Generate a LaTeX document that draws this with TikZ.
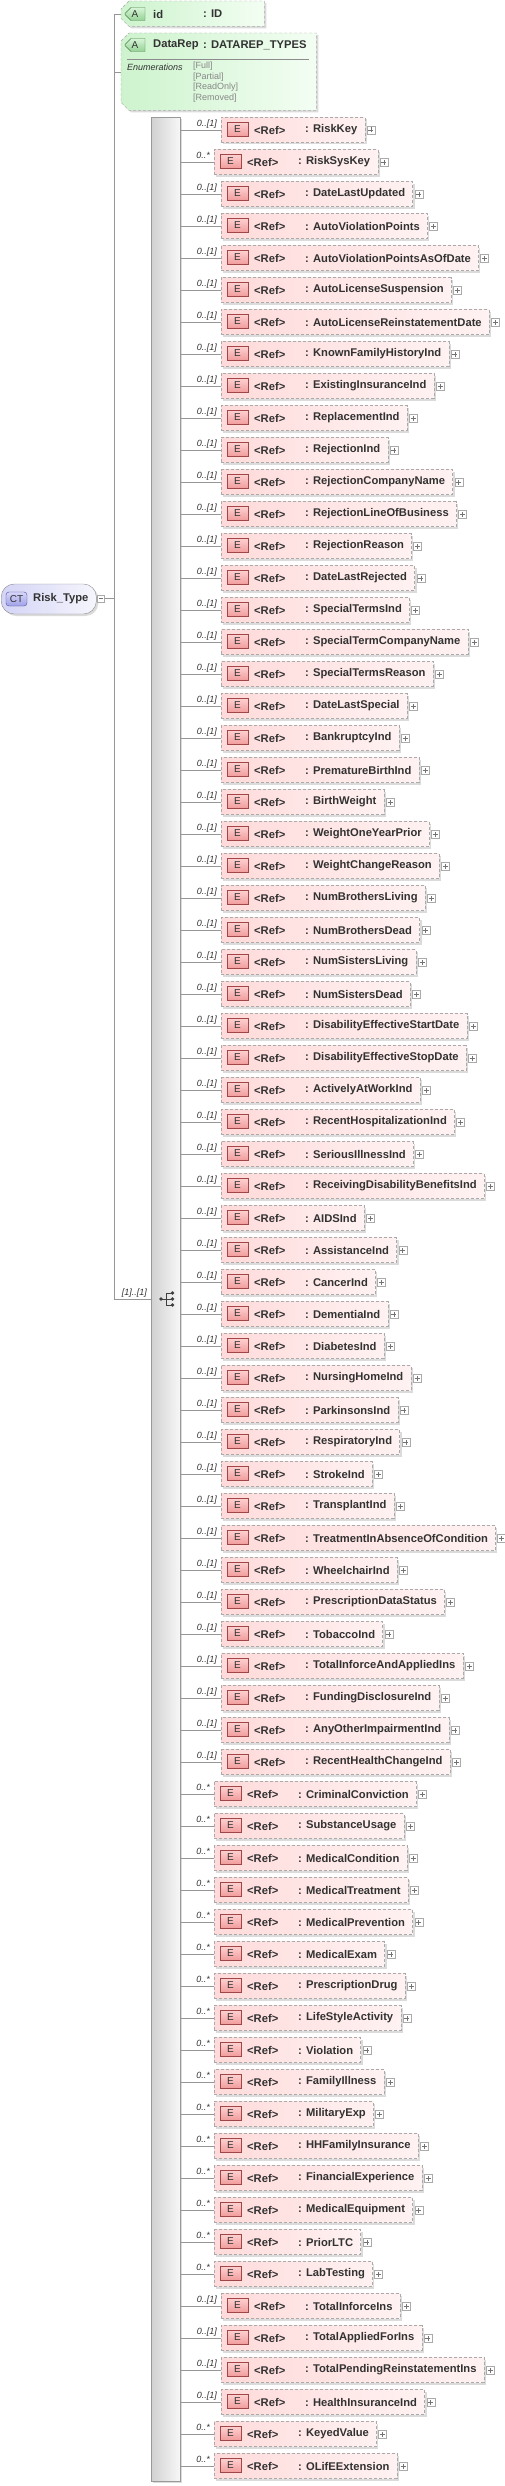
\documentclass[tikz,border=0pt]{standalone}
\usepackage{fontspec}
\setmainfont{Liberation Sans}
\usetikzlibrary{shadows,shapes.misc}
\definecolor{elL}{RGB}{255,218,218}
\definecolor{elR}{RGB}{255,242,242}
\definecolor{bdr}{RGB}{170,170,170}
\definecolor{lnc}{RGB}{150,150,150}
\definecolor{txt}{RGB}{50,50,50}
\definecolor{ebT}{RGB}{255,208,208}
\definecolor{ebB}{RGB}{240,155,155}
\definecolor{ebD}{RGB}{160,70,70}
\definecolor{atL}{RGB}{205,243,205}
\definecolor{atR}{RGB}{243,254,243}
\definecolor{abT}{RGB}{215,245,215}
\definecolor{abB}{RGB}{150,210,150}
\definecolor{abD}{RGB}{70,125,70}
\definecolor{ctL}{RGB}{212,212,246}
\definecolor{ctR}{RGB}{246,246,253}
\definecolor{cbT}{RGB}{215,215,250}
\definecolor{cbB}{RGB}{160,160,232}
\definecolor{cbD}{RGB}{80,80,150}
\definecolor{enc}{RGB}{135,135,135}
\begin{document}
\begin{tikzpicture}[x=1pt,y=-1pt,
  shd/.style={drop shadow={shadow xshift=2pt,shadow yshift=-2pt,fill=black,opacity=0.14}},
  conn/.style={draw=lnc,line width=0.8pt},
  elbox/.style={shd,draw=bdr,dash pattern=on 3pt off 2pt,left color=elL,right color=elR,
    minimum height=25pt,inner sep=0pt,font=\fontsize{11.2}{13}\selectfont\bfseries,text=txt},
  ebadge/.style={draw=ebD,top color=ebT,bottom color=ebB,minimum width=21pt,minimum height=14pt,
    inner sep=0pt,font=\fontsize{10}{11}\selectfont,text=txt},
  reftxt/.style={inner sep=0pt,font=\fontsize{11.2}{13}\selectfont\bfseries,text=txt},
  plusbox/.style={draw=bdr,fill=white,minimum width=8pt,minimum height=8pt,inner sep=0pt},
  plusline/.style={draw=black!55,line width=0.5pt},
  mult/.style={inner sep=0pt,font=\fontsize{9}{10}\selectfont\itshape,text=txt},
  attrshape/.style={shd,draw=bdr,dash pattern=on 3pt off 2pt,left color=atL,right color=atR},
  abadge/.style={chamfered rectangle,chamfered rectangle corners={north west,south west},
    chamfered rectangle xsep=3pt,chamfered rectangle ysep=3pt,draw=abD,top color=abT,bottom color=abB,
    minimum width=20pt,minimum height=13pt,inner sep=0pt,font=\fontsize{10}{11}\selectfont,text=txt},
  attxt/.style={inner sep=0pt,anchor=west,font=\fontsize{11.2}{13}\selectfont\bfseries,text=txt},
  enumtxt/.style={inner sep=0pt,anchor=west,font=\fontsize{9}{10}\selectfont,text=enc},
  seqbar/.style={shd,draw=black!40,left color=black!18,right color=black!3,inner sep=0pt},
  ctbox/.style={shd,draw=black!45,rounded corners=13pt,left color=ctL,right color=ctR,
    minimum height=30pt,inner sep=0pt,font=\fontsize{11.2}{13}\selectfont\bfseries,text=txt},
  cbadge/.style={draw=cbD,rounded corners=3pt,top color=cbT,bottom color=cbB,minimum width=21pt,
    minimum height=14pt,inner sep=0pt,font=\fontsize{10}{11}\selectfont,text=txt},
  icon/.style={draw=black!75,fill=black!75,line width=0.8pt}
]
\useasboundingbox (0,0) rectangle (505,2486);

% complex type node
\node[ctbox,anchor=west] (ct) at (1,599) {\hspace*{32pt}Risk\_Type\hspace*{8pt}};
\node[cbadge] (ctb) at (16.5,599) {CT};
\node[plusbox,minimum width=7pt,minimum height=7pt] (ctm) at (101,598.5) {};
\draw[plusline] ([xshift=-2.2pt]ctm.center) -- ([xshift=2.2pt]ctm.center);

% trunk
\coordinate (tTop) at (114,14);
\coordinate (tDR) at (114,72);
\coordinate (tBot) at (114,1299);
\draw[conn] (ctm.east) -- (ctm.east -| tTop);

% attribute id
\node[minimum width=143pt,minimum height=25pt,inner sep=0pt,anchor=north west] (id) at (121,1) {};
\path[attrshape] ([xshift=8pt]id.north west) -- (id.north east) -- (id.south east)
  -- ([xshift=8pt]id.south west) -- ([yshift=8pt]id.south west) -- ([yshift=-8pt]id.north west) -- cycle;
\node[abadge] (ida) at (135,14) {A};
\node[attxt] (idn) at (153,14) {id};
\node[attxt] (idt) at (203,14) {: ID};
\draw[conn] (tTop) -- (tTop -| id.west);

% attribute DataRep
\node[minimum width=195pt,minimum height=77pt,inner sep=0pt,anchor=north west] (dr) at (121,33) {};
\path[attrshape] ([xshift=8pt]dr.north west) -- (dr.north east) -- (dr.south east)
  -- ([xshift=8pt]dr.south west) -- ([yshift=8pt]dr.south west) -- ([yshift=-8pt]dr.north west) -- cycle;
\node[abadge] (dra) at (135,45) {A};
\node[attxt] (drn) at (153,45) {DataRep};
\node[attxt] (drt) at (203,45) {: DATAREP\_TYPES};
\draw[draw=black!45,line width=0.6pt] (127,59) -- (309,59);
\node[enumtxt,font=\fontsize{9}{10}\selectfont\itshape,text=txt] (dre) at (127,67) {Enumerations};
\node[enumtxt] (dv1) at (193,66) {[Full]};
\node[enumtxt] (dv2) at (193,77) {[Partial]};
\node[enumtxt] (dv3) at (193,87.5) {[ReadOnly]};
\node[enumtxt] (dv4) at (193,98) {[Removed]};
\draw[conn] (tDR) -- (tDR -| dr.west);

% sequence bar
\node[seqbar,anchor=north west,minimum width=29pt,minimum height=2364pt] (seq) at (151,117) {};
\draw[conn] (tTop) -- (tBot) -- (seq.west |- tBot);
\node[mult,anchor=base east] (mseq) at (147,1295) {[1]..[1]};
\draw[icon] (161,1299) -- (166,1299) (166,1293) -- (166,1305)
  (166,1293) -- (172.5,1293) (166,1299) -- (172.5,1299) (166,1305) -- (172.5,1305);
\fill[black!75] (161,1299) circle (1.9pt) (172.5,1293) circle (1.9pt)
  (172.5,1299) circle (1.9pt) (172.5,1305) circle (1.9pt);

% elements
\foreach \nm/\mu [count=\i] in {RiskKey/0, RiskSysKey/1, DateLastUpdated/0, AutoViolationPoints/0,
  AutoViolationPointsAsOfDate/0, AutoLicenseSuspension/0, AutoLicenseReinstatementDate/0,
  KnownFamilyHistoryInd/0, ExistingInsuranceInd/0, ReplacementInd/0, RejectionInd/0,
  RejectionCompanyName/0, RejectionLineOfBusiness/0, RejectionReason/0, DateLastRejected/0,
  SpecialTermsInd/0, SpecialTermCompanyName/0, SpecialTermsReason/0, DateLastSpecial/0,
  BankruptcyInd/0, PrematureBirthInd/0, BirthWeight/0, WeightOneYearPrior/0, WeightChangeReason/0,
  NumBrothersLiving/0, NumBrothersDead/0, NumSistersLiving/0, NumSistersDead/0,
  DisabilityEffectiveStartDate/0, DisabilityEffectiveStopDate/0, ActivelyAtWorkInd/0,
  RecentHospitalizationInd/0, SeriousIllnessInd/0, ReceivingDisabilityBenefitsInd/0, AIDSInd/0,
  AssistanceInd/0, CancerInd/0, DementiaInd/0, DiabetesInd/0, NursingHomeInd/0, ParkinsonsInd/0,
  RespiratoryInd/0, StrokeInd/0, TransplantInd/0, TreatmentInAbsenceOfCondition/0, WheelchairInd/0,
  PrescriptionDataStatus/0, TobaccoInd/0, TotalInforceAndAppliedIns/0, FundingDisclosureInd/0,
  AnyOtherImpairmentInd/0, RecentHealthChangeInd/0, CriminalConviction/1, SubstanceUsage/1,
  MedicalCondition/1, MedicalTreatment/1, MedicalPrevention/1, MedicalExam/1, PrescriptionDrug/1,
  LifeStyleActivity/1, Violation/1, FamilyIllness/1, MilitaryExp/1, HHFamilyInsurance/1,
  FinancialExperience/1, MedicalEquipment/1, PriorLTC/1, LabTesting/1, TotalInforceIns/0,
  TotalAppliedForIns/0, TotalPendingReinstatementIns/0, HealthInsuranceInd/0, KeyedValue/1,
  OLifEExtension/1}{
  \pgfmathsetmacro\yy{130+32*(\i-1)}
  \pgfmathsetmacro\xx{221-7*\mu}
  \node[elbox,anchor=west] (e\i) at (\xx,\yy) {\hspace*{84pt}: \nm\hspace*{7.5pt}};
  \node[ebadge] (b\i) at ([xshift=16.5pt,yshift=0.5pt]e\i.west) {E};
  \node[reftxt,anchor=west] (r\i) at ([xshift=33pt]e\i.west) {<Ref>};
  \node[plusbox] (p\i) at ([xshift=6pt]e\i.east) {};
  \draw[plusline] ([xshift=-2.5pt]p\i.center) -- ([xshift=2.5pt]p\i.center)
    ([yshift=-2.5pt]p\i.center) -- ([yshift=2.5pt]p\i.center);
  \draw[conn] (seq.east |- e\i.west) -- (e\i.west);
  \node[mult,anchor=base east] (m\i) at ([xshift=-4pt,yshift=3.5pt]e\i.west)
    {\ifnum\mu=1 0..*\else 0..[1]\fi};
}
\end{tikzpicture}
\end{document}
